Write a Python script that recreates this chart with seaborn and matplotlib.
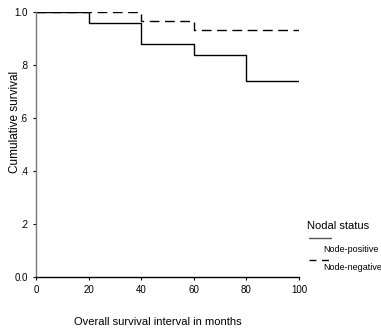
import matplotlib
matplotlib.use("Agg")
import matplotlib.pyplot as plt
from matplotlib.lines import Line2D
import pandas as pd
import seaborn as sns

# Kaplan-Meier step estimates by nodal status
positive_months = [0, 20, 40, 60, 80, 100]
positive_survival = [1.0, 0.96, 0.88, 0.84, 0.74, 0.74]
negative_months = [0, 40, 60, 100]
negative_survival = [1.0, 0.967, 0.931, 0.931]
group_labels = ["Node-positive", "Node-negative"]
y_ticks = [0.0, 0.2, 0.4, 0.6, 0.8, 1.0]
y_tick_labels = ["0.0", ".2", ".4", ".6", ".8", "1.0"]
x_ticks = [0, 20, 40, 60, 80, 100]

sns.set_theme(style="white")
plt.rcParams["font.family"] = ["Liberation Sans", "DejaVu Sans"]
plt.rcParams["text.color"] = "black"
plt.rcParams["axes.labelcolor"] = "black"

pos_df = pd.DataFrame({"months": positive_months, "survival": positive_survival})
neg_df = pd.DataFrame({"months": negative_months, "survival": negative_survival})

fig = plt.figure(figsize=(3.81, 3.28), dpi=100)
ax = fig.add_axes([0.0945, 0.1555, 0.6905, 0.8075])

sns.lineplot(data=neg_df, x="months", y="survival", ax=ax, color="black",
             linewidth=1.0, drawstyle="steps-post", dashes=False,
             linestyle=(0, (7, 4)))
sns.lineplot(data=pos_df, x="months", y="survival", ax=ax, color="black",
             linewidth=1.0, drawstyle="steps-post")

ax.set_xlim(0, 100)
ax.set_ylim(0, 1.0)
ax.set_xticks(x_ticks)
ax.set_xticklabels([str(t) for t in x_ticks])
ax.set_yticks(y_ticks)
ax.set_yticklabels(y_tick_labels)
ax.tick_params(axis="both", which="major", length=2, width=0.8, labelsize=7,
               pad=4, direction="out", bottom=True, left=True,
               colors="black", labelcolor="black")
ax.set_xlabel("Overall survival interval in months", fontsize=8, color="black")
ax.set_ylabel("Cumulative survival", fontsize=8.5, color="black")
ax.xaxis.set_label_coords(0.464, -0.17)
ax.yaxis.set_label_coords(-0.08, 0.585)
ax.xaxis.label.set_va("center")
ax.yaxis.label.set_va("center")

for side in ("top", "right"):
    ax.spines[side].set_visible(False)
ax.spines["left"].set_color("#777777")
ax.spines["left"].set_linewidth(1.0)
ax.spines["bottom"].set_color("black")
ax.spines["bottom"].set_linewidth(1.0)

# Legend block to the right of the plot
fig.text(307 / 381, 1 - 226 / 328, "Nodal status", fontsize=8, va="center", ha="left")
fig.add_artist(Line2D([309 / 381, 331 / 381], [1 - 238 / 328] * 2, color="#555555",
                      linewidth=1.0, transform=fig.transFigure))
fig.text(323 / 381, 1 - 250 / 328, group_labels[0], fontsize=6.5, va="center", ha="left")
fig.add_artist(Line2D([309 / 381, 331 / 381], [1 - 260 / 328] * 2, color="black",
                      linewidth=1.0, linestyle=(0, (5, 4)), transform=fig.transFigure))
fig.text(323 / 381, 1 - 268 / 328, group_labels[1], fontsize=6.5, va="center", ha="left")

fig.savefig("out.png", dpi=100)
